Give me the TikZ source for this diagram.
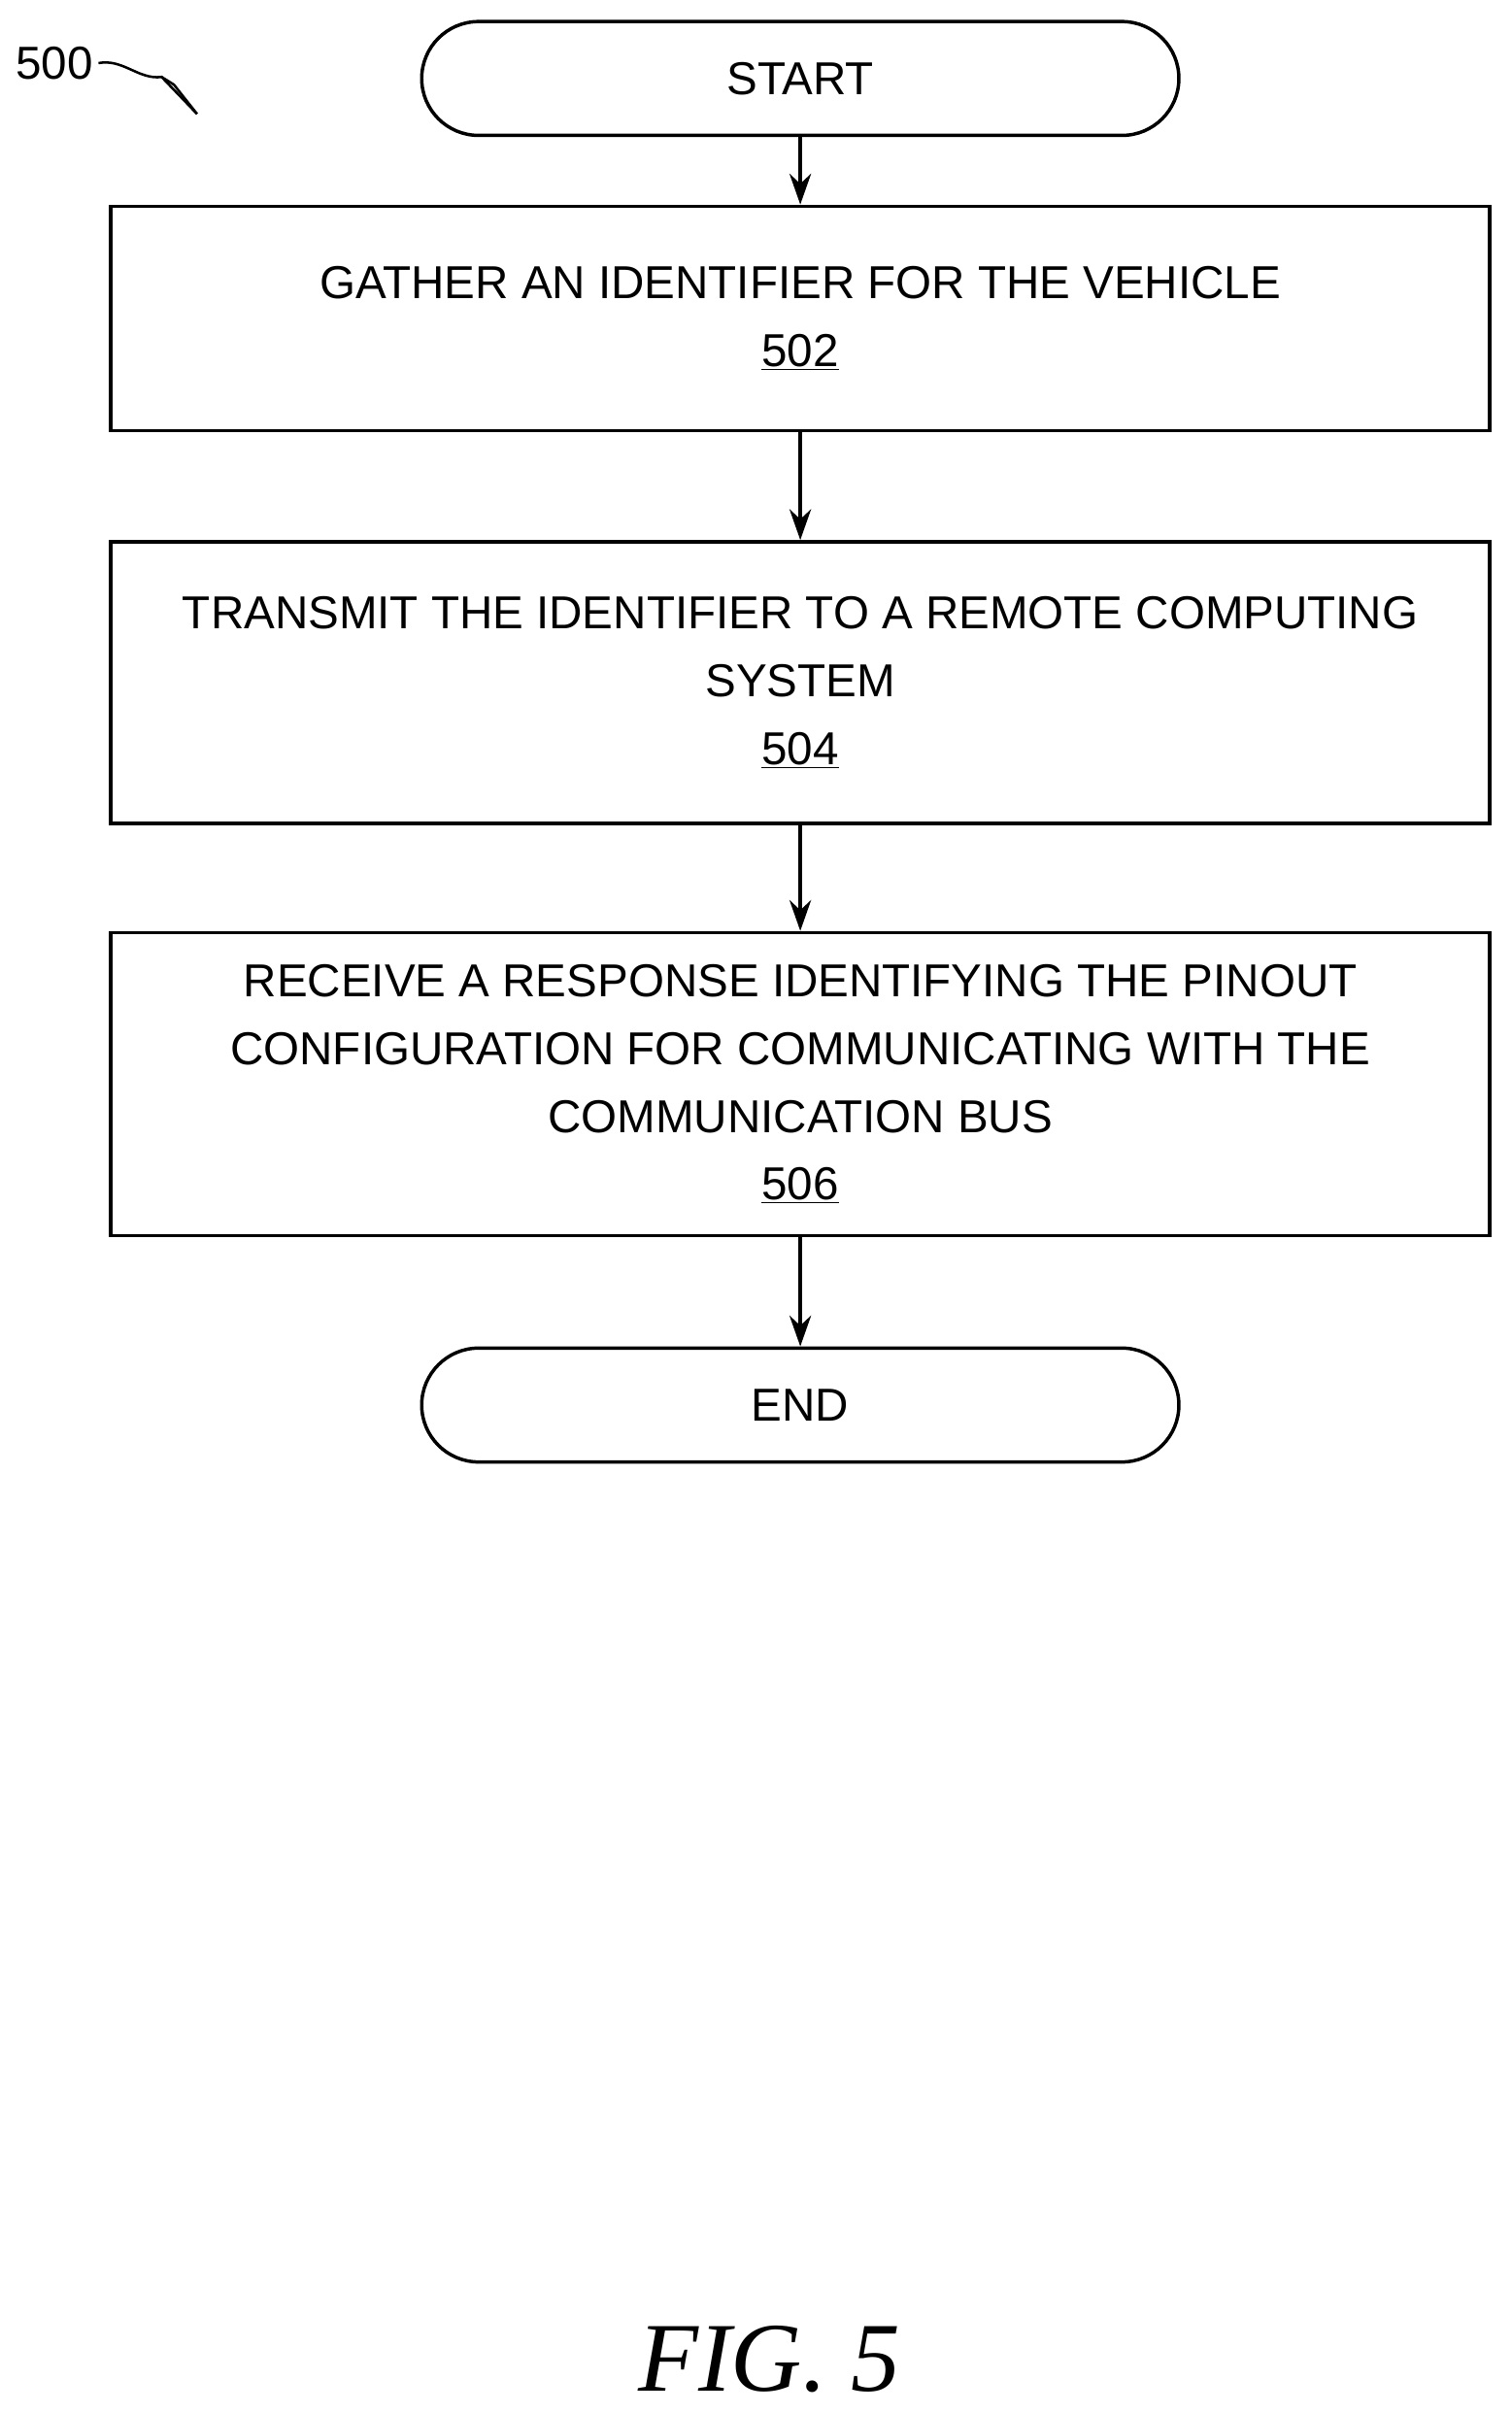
\documentclass[tikz,border=0pt]{standalone}
\usepackage{fontspec}
\setmainfont{Liberation Sans}
\newfontfamily\figfont{Liberation Serif}
\usetikzlibrary{arrows.meta}
\begin{document}
\begin{tikzpicture}[x=1pt,y=-1pt,
  box/.style={draw,line width=2.2pt,minimum width=896pt,align=center,inner sep=0pt},
  term/.style={draw,line width=2.2pt,rounded corners=37pt,minimum width=492pt,minimum height=74pt},
  txt/.style={font=\fontsize{30}{44}\selectfont},
  arr/.style={line width=2.2pt,-{Stealth[length=20pt,width=14pt]}}]
\useasboundingbox (0,0) rectangle (982,1568);
\node[term,txt] (start) at (520,51) {START};
\node[box,txt,minimum height=146pt] (b502) at (520,207) {GATHER AN IDENTIFIER FOR THE VEHICLE\\\underline{502}};
\node[box,txt,minimum height=183pt] (b504) at (520,443.5) {TRANSMIT THE IDENTIFIER TO A REMOTE COMPUTING\\SYSTEM\\\underline{504}};
\node[box,txt,minimum height=197pt] (b506) at (520,704.5) {RECEIVE A RESPONSE IDENTIFYING THE PINOUT\\CONFIGURATION FOR COMMUNICATING WITH THE\\COMMUNICATION BUS\\\underline{506}};
\node[term,txt] (end) at (520,913) {END};
\draw[arr] (start) -- (b502);
\draw[arr] (b502) -- (b504);
\draw[arr] (b504) -- (b506);
\draw[arr] (b506) -- (end);
\node[txt,anchor=east] (n500) at (64,41) {500};
\coordinate (tip) at (128,74);
\draw[line width=1.6pt] (n500.east) .. controls (80,38) and (90,52) .. (105,50) -- (tip);
\draw[line width=1.6pt] (tip) -- (113,55) -- (105,50);
\node[font=\figfont\itshape\fontsize{64}{64}\selectfont] (fig) at (500,1533) {FIG. 5};
\end{tikzpicture}
\end{document}
